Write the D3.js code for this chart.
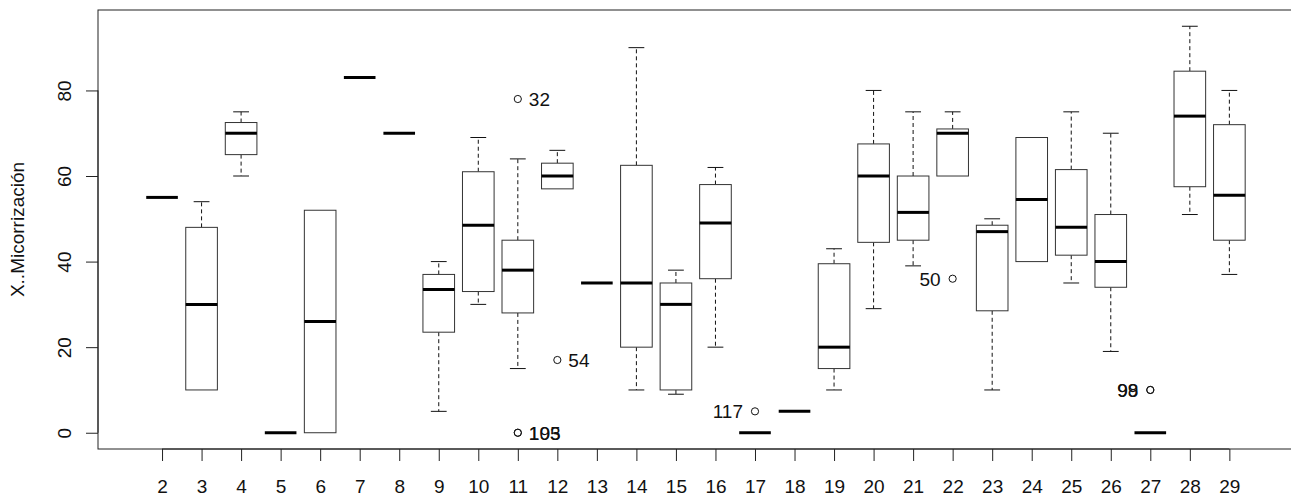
<!DOCTYPE html>
<html lang="es">
<head>
    <meta charset="UTF-8">
    <title>Boxplot Micorrización</title>
    <script src="https://d3js.org/d3.v7.min.js"></script>
    <style>
        html, body { margin: 0; padding: 0; background: #fff; }
        svg { display: block; font-family: "Liberation Sans", Arial, sans-serif; }
    </style>
</head>
<body>
    <div id="chart"></div>
    <script>
        // categories (x axis labels)
        const categories = [2, 3, 4, 5, 6, 7, 8, 9, 10, 11, 12, 13, 14, 15, 16, 17, 18, 19, 20, 21, 22, 23, 24, 25, 26, 27, 28, 29];

        // five-number summaries
        const whiskerLow  = [55, 10, 60, 0, 0, 83, 70, 5, 30, 15, 57, 35, 10, 9, 20, 0, 5, 10, 29, 39, 60, 10, 40, 35, 19, 0, 51, 37];
        const q1          = [55, 10, 65, 0, 0, 83, 70, 23.5, 33, 28, 57, 35, 20, 10, 36, 0, 5, 15, 44.5, 45, 60, 28.5, 40, 41.5, 34, 0, 57.5, 45];
        const median      = [55, 30, 70, 0, 26, 83, 70, 33.5, 48.5, 38, 60, 35, 35, 30, 49, 0, 5, 20, 60, 51.5, 70, 47, 54.5, 48, 40, 0, 74, 55.5];
        const q3          = [55, 48, 72.5, 0, 52, 83, 70, 37, 61, 45, 63, 35, 62.5, 35, 58, 0, 5, 39.5, 67.5, 60, 71, 48.5, 69, 61.5, 51, 0, 84.5, 72];
        const whiskerHigh = [55, 54, 75, 0, 52, 83, 70, 40, 69, 64, 66, 35, 90, 38, 62, 0, 5, 43, 80, 75, 75, 50, 69, 75, 70, 0, 95, 80];

        // outliers: group, value, identify() label, label side
        const outlierGroup = [11, 11, 11, 12, 17, 22, 27, 27];
        const outlierValue = [78, 0, 0, 17, 5, 36, 10, 10];
        const outlierLabel = ["32", "105", "193", "54", "117", "50", "98", "99"];
        const outlierSide  = ["right", "right", "right", "right", "left", "left", "left", "left"];

        const yTicks = [0, 20, 40, 60, 80];
        const yTitle = "X..Micorrización";

        const W = 1291, H = 497;
        const plot = {left: 98, right: 1293.4, top: 10, bottom: 449};
        const fontSize = 19;

        // R-style ranges: groups at 1..n, +-0.5, then 4% extension
        const n = categories.length;
        const xPad = 0.04 * n;
        const x = d3.scaleLinear()
            .domain([0.5 - xPad, n + 0.5 + xPad])
            .range([plot.left, plot.right]);

        const dataMax = d3.max(whiskerHigh.concat(outlierValue));
        const yPad = 0.04 * dataMax;
        const y = d3.scaleLinear()
            .domain([0 - yPad, dataMax + yPad])
            .range([plot.bottom, plot.top]);

        const svg = d3.select("#chart")
            .append("svg")
            .attr("width", W)
            .attr("height", H);

        // boxes
        const boxW = 0.8 * (x(2) - x(1));
        const stapleW = boxW / 2;

        const groups = svg.append("g")
            .selectAll("g")
            .data(categories.map((c, i) => ({
                cat: c, pos: i + 1,
                lo: whiskerLow[i], q1: q1[i], med: median[i], q3: q3[i], hi: whiskerHigh[i]
            })))
            .join("g");

        // whiskers (dashed)
        groups.filter(d => d.hi > d.q3).append("line")
            .attr("x1", d => x(d.pos)).attr("x2", d => x(d.pos))
            .attr("y1", d => y(d.q3)).attr("y2", d => y(d.hi))
            .attr("stroke", "#111").attr("stroke-dasharray", "4,3");
        groups.filter(d => d.lo < d.q1).append("line")
            .attr("x1", d => x(d.pos)).attr("x2", d => x(d.pos))
            .attr("y1", d => y(d.q1)).attr("y2", d => y(d.lo))
            .attr("stroke", "#111").attr("stroke-dasharray", "4,3");

        // staples
        groups.filter(d => d.hi > d.q3).append("line")
            .attr("x1", d => x(d.pos) - stapleW / 2).attr("x2", d => x(d.pos) + stapleW / 2)
            .attr("y1", d => y(d.hi)).attr("y2", d => y(d.hi))
            .attr("stroke", "#111");
        groups.filter(d => d.lo < d.q1).append("line")
            .attr("x1", d => x(d.pos) - stapleW / 2).attr("x2", d => x(d.pos) + stapleW / 2)
            .attr("y1", d => y(d.lo)).attr("y2", d => y(d.lo))
            .attr("stroke", "#111");

        // box body
        groups.filter(d => d.q3 > d.q1).append("rect")
            .attr("x", d => x(d.pos) - boxW / 2)
            .attr("y", d => y(d.q3))
            .attr("width", boxW)
            .attr("height", d => y(d.q1) - y(d.q3))
            .attr("fill", "#fff")
            .attr("stroke", "#333")
            .attr("stroke-width", 1);

        // median
        groups.append("line")
            .attr("x1", d => x(d.pos) - boxW / 2).attr("x2", d => x(d.pos) + boxW / 2)
            .attr("y1", d => y(d.med)).attr("y2", d => y(d.med))
            .attr("stroke", "#000").attr("stroke-width", 3);

        // outliers + labels
        const outliers = outlierGroup.map((g, i) => ({
            pos: categories.indexOf(g) + 1, value: outlierValue[i], label: outlierLabel[i], side: outlierSide[i]
        }));
        svg.append("g").selectAll("circle")
            .data(outliers)
            .join("circle")
            .attr("cx", d => x(d.pos)).attr("cy", d => y(d.value)).attr("r", 3.6)
            .attr("fill", "none").attr("stroke", "#111");
        svg.append("g").selectAll("text")
            .data(outliers)
            .join("text")
            .attr("x", d => x(d.pos) + (d.side === "right" ? 11 : -12))
            .attr("y", d => y(d.value) + 6.8)
            .attr("text-anchor", d => d.side === "right" ? "start" : "end")
            .attr("font-size", fontSize)
            .attr("fill", "#111")
            .text(d => d.label);

        // frame
        svg.append("rect")
            .attr("x", plot.left).attr("y", plot.top)
            .attr("width", plot.right - plot.left).attr("height", plot.bottom - plot.top)
            .attr("fill", "none").attr("stroke", "#222").attr("stroke-width", 1);

        // x axis
        const xAxis = svg.append("g").attr("transform", `translate(0,${plot.bottom})`)
            .call(d3.axisBottom(x)
                .tickValues(categories.map((c, i) => i + 1))
                .tickFormat((d, i) => categories[i])
                .tickSize(12)
                .tickPadding(19));
        xAxis.select(".domain")
            .attr("d", `M${x(1)},0H${x(n)}`).attr("stroke", "#222");
        xAxis.selectAll(".tick line").attr("stroke", "#222");
        xAxis.selectAll(".tick text")
            .attr("font-size", fontSize).attr("font-family", "Liberation Sans, Arial, sans-serif")
            .attr("fill", "#111");

        // y axis
        const yAxis = svg.append("g").attr("transform", `translate(${plot.left},0)`)
            .call(d3.axisLeft(y).tickValues(yTicks).tickSize(12).tickFormat(d3.format("d")));
        yAxis.select(".domain")
            .attr("d", `M0,${y(0)}V${y(80)}`).attr("stroke", "#222");
        yAxis.selectAll(".tick line").attr("stroke", "#222");
        yAxis.selectAll(".tick text")
            .attr("x", null).attr("dy", null)
            .attr("text-anchor", "middle")
            .attr("transform", "translate(-27,0) rotate(-90)")
            .attr("font-size", fontSize).attr("font-family", "Liberation Sans, Arial, sans-serif")
            .attr("fill", "#111");

        // y title
        svg.append("text")
            .attr("transform", `translate(24,${(plot.top + plot.bottom) / 2}) rotate(-90)`)
            .attr("text-anchor", "middle")
            .attr("font-size", fontSize)
            .attr("fill", "#111")
            .text(yTitle);
    </script>
</body>
</html>
